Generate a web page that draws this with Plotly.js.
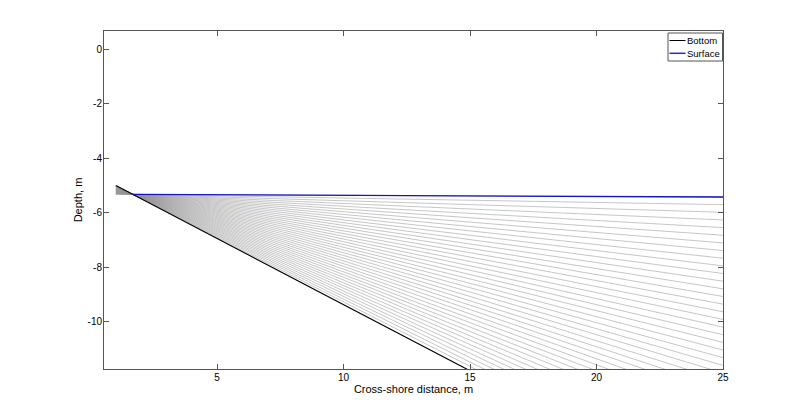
<!DOCTYPE html>
<html>
<head>
<meta charset="utf-8">
<script src="https://cdn.plot.ly/plotly-3.0.1.min.js"></script>
<style>html,body{margin:0;padding:0;background:#fff;}#chart{width:800px;height:415px;}</style>
</head>
<body>
<div id="chart"></div>
<script>
// Cross-shore positions (m)
const xEnds = [1, 25];
// Bottom elevation at those positions (m)
const bottomDepth = [-5.0, -16.65];
// Water surface elevation at those positions (m)
const surfaceDepth = [-5.32, -5.42];
// Surface shown only where wet
const surfaceX = [1.66, 25];
const surfaceY = [-5.325, -5.42];
// Sigma levels (fraction of water column) of the grid lines
const sigmaLevels = [0, 0.025, 0.05, 0.075, 0.1, 0.125, 0.15, 0.175, 0.2, 0.225,
  0.25, 0.275, 0.3, 0.325, 0.35, 0.375, 0.4, 0.425, 0.45, 0.475,
  0.5, 0.525, 0.55, 0.575, 0.6, 0.625, 0.65, 0.675, 0.7, 0.725,
  0.75, 0.775, 0.8, 0.825, 0.85, 0.875, 0.9, 0.925, 0.95, 0.975, 1];
const xTicks = [5, 10, 15, 20, 25];
const xTickText = ['5', '10', '15', '20', '25'];
const yTicks = [0, -2, -4, -6, -8, -10];
const yTickText = ['0', '-2', '-4', '-6', '-8', '-10'];
const legendNames = ['Bottom', 'Surface'];
const legendColors = ['#000000', '#2a2ad0'];

const traces = [];
sigmaLevels.forEach(s => {
  traces.push({
    x: xEnds,
    y: xEnds.map((_, i) => surfaceDepth[i] + s * (bottomDepth[i] - surfaceDepth[i])),
    mode: 'lines', type: 'scatter', showlegend: false, hoverinfo: 'skip',
    line: {color: '#969696', width: 0.55}
  });
});
traces.push({x: xEnds, y: bottomDepth, mode: 'lines', type: 'scatter', name: legendNames[0],
  showlegend: false, line: {color: '#000000', width: 1.1}});
traces.push({x: surfaceX, y: surfaceY, mode: 'lines', type: 'scatter', name: legendNames[1],
  showlegend: false, line: {color: '#1414c0', width: 1.3}});

const fam = 'Liberation Sans, Arial, sans-serif';
// Compact MATLAB-style legend box (top-right, inside the axes)
const W = 800 - 104 - 77, H = 415 - 31 - 46;
const px = v => (v - 104) / W, py = v => 1 - (v - 31) / H;
const shapes = [{type: 'rect', xref: 'paper', yref: 'paper', x0: px(668), x1: px(722.5), y0: py(61), y1: py(33),
  line: {color: '#555', width: 1}, fillcolor: '#fff', layer: 'above'}];
const annotations = [];
legendNames.forEach((n, i) => {
  const yy = 40.5 + i * 12.8;
  shapes.push({type: 'line', xref: 'paper', yref: 'paper', x0: px(669.5), x1: px(685.5), y0: py(yy), y1: py(yy),
    line: {color: legendColors[i], width: i === 0 ? 1 : 1.5}, layer: 'above'});
  annotations.push({xref: 'paper', yref: 'paper', x: px(685.5), y: py(yy), xanchor: 'left', yanchor: 'middle',
    text: n, showarrow: false, borderpad: 0, font: {family: fam, size: 9.5, color: '#000'}});
});

const layout = {
  width: 800, height: 415,
  paper_bgcolor: '#fff', plot_bgcolor: '#fff',
  margin: {l: 104, r: 77, t: 31, b: 46},
  font: {family: fam, size: 10, color: '#000'},
  showlegend: false,
  shapes: shapes, annotations: annotations,
  xaxis: {range: [0.53, 25], tickvals: xTicks, ticktext: xTickText, ticks: 'inside', ticklen: 5,
    tickcolor: '#555', showline: true, linecolor: '#555', linewidth: 1, mirror: 'ticks',
    showgrid: false, zeroline: false, ticklabelstandoff: -1,
    title: {text: 'Cross-shore distance, m', font: {family: fam, size: 11, color: '#000'}, standoff: 1}},
  yaxis: {range: [-11.73, 0.67], tickvals: yTicks, ticktext: yTickText, ticks: 'inside', ticklen: 5,
    tickcolor: '#555', showline: true, linecolor: '#555', linewidth: 1, mirror: 'ticks',
    showgrid: false, zeroline: false, ticklabelstandoff: -1,
    title: {text: 'Depth, m', font: {family: fam, size: 11, color: '#000'}, standoff: 2}}
};
Plotly.newPlot('chart', traces, layout, {displayModeBar: false, staticPlot: true});
</script>
</body>
</html>
